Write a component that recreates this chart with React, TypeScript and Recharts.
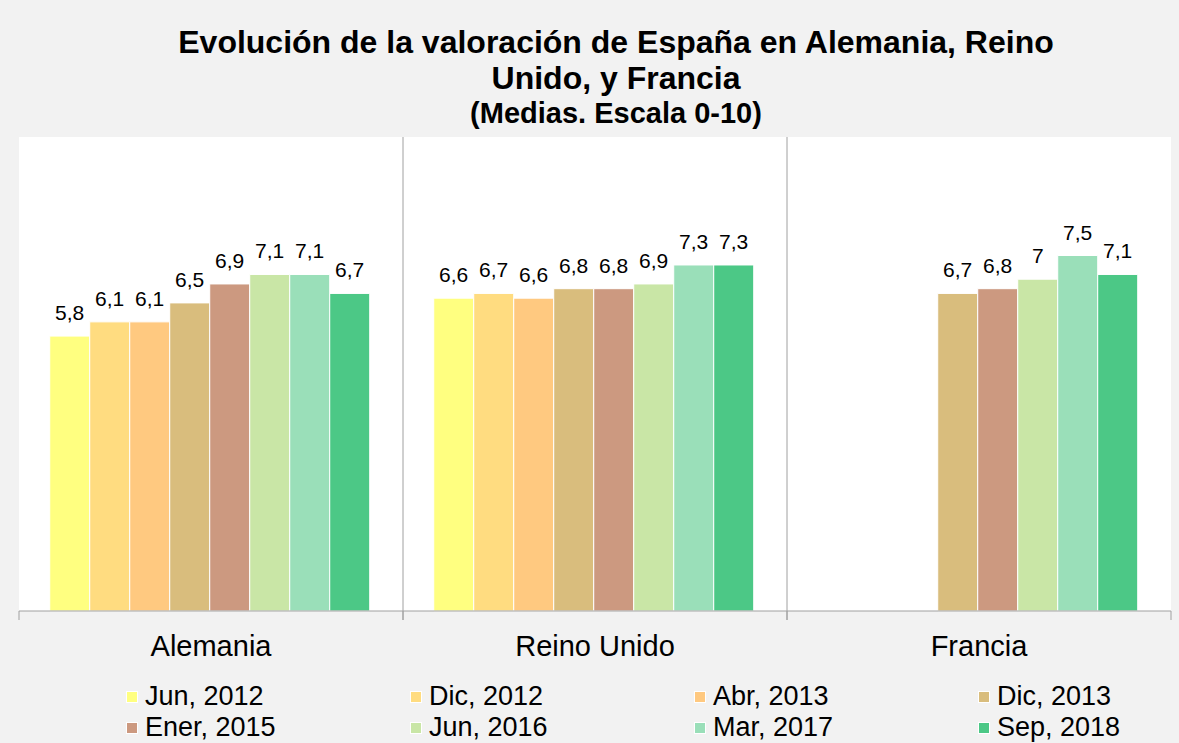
import { BarChart, Bar, XAxis, YAxis, CartesianGrid, LabelList, Legend } from 'recharts';

const categories = ['Alemania', 'Reino Unido', 'Francia'];

const seriesNames = ['Jun, 2012', 'Dic, 2012', 'Abr, 2013', 'Dic, 2013', 'Ener, 2015', 'Jun, 2016', 'Mar, 2017', 'Sep, 2018'];
const seriesColors = ['#ffff80', '#ffdc80', '#ffc980', '#d9bd7d', '#cc9980', '#c9e6a6', '#9adfb9', '#4cc886'];

// one array per country, in series order
const alemania = [5.8, 6.1, 6.1, 6.5, 6.9, 7.1, 7.1, 6.7];
const reinoUnido = [6.6, 6.7, 6.6, 6.8, 6.8, 6.9, 7.3, 7.3];
const francia = [null, null, null, 6.7, 6.8, 7.0, 7.5, 7.1];

const countryValues = [alemania, reinoUnido, francia];

const chartData = categories.map((name, ci) => {
    const row: Record<string, string | number | null> = { name };
    seriesNames.forEach((s, si) => {
        row[s] = countryValues[ci][si];
    });
    return row;
});

const FONT = '"Liberation Sans", Arial, sans-serif';
const AXIS_GRAY = '#a0a0a0';
const TICK_MARGIN = 24;

const fmt = (v: unknown) => (v === null || v === undefined ? '' : String(v).replace('.', ','));

// category label plus the small tick marks at the band edges
function CategoryTick(props: any) {
    const { x, y, payload } = props;
    const half = payload?.offset ?? 0;
    const lineY = y - TICK_MARGIN;
    return (
        <g>
            <line x1={x - half} x2={x - half} y1={lineY} y2={lineY + 9} stroke={AXIS_GRAY} />
            <line x1={x + half} x2={x + half} y1={lineY} y2={lineY + 9} stroke={AXIS_GRAY} />
            <text x={x} y={y} dy="0.71em" textAnchor="middle" fontSize={29} fill="#000" fontFamily={FONT}>
                {payload.value}
            </text>
        </g>
    );
}

function LegendContent() {
    return (
        <div style={{ fontFamily: FONT, fontSize: 27, color: '#000', paddingLeft: 126 }}>
            {[0, 1].map((r) => (
                <div key={r} style={{ display: 'flex', height: 31, alignItems: 'center' }}>
                    {seriesNames.slice(r * 4, r * 4 + 4).map((s, i) => (
                        <div key={s} style={{ width: 284, flexShrink: 0, display: 'flex', alignItems: 'center' }}>
                            <span
                                style={{
                                    display: 'inline-block',
                                    width: 12,
                                    height: 12,
                                    boxSizing: 'border-box',
                                    border: '1px solid #fff',
                                    background: seriesColors[r * 4 + i],
                                    marginRight: 7,
                                }}
                            />
                            <span style={{ lineHeight: '31px', whiteSpace: 'nowrap' }}>{s}</span>
                        </div>
                    ))}
                </div>
            ))}
        </div>
    );
}

export default function App() {
    return (
        <div style={{ position: 'absolute', left: 0, top: 0, width: 1179, height: 743, background: '#f2f2f2', fontFamily: FONT }}>
            <div style={{ position: 'absolute', left: 116, width: 1000, top: 0, textAlign: 'center', fontWeight: 'bold', color: '#000' }}>
                <div style={{ fontSize: 32, lineHeight: '36px', paddingTop: 24, whiteSpace: 'nowrap' }}>
                    Evolución de la valoración de España en Alemania, Reino
                </div>
                <div style={{ fontSize: 32, lineHeight: '36px' }}>Unido, y Francia</div>
                <div style={{ fontSize: 29, lineHeight: '34px' }}>(Medias. Escala 0-10)</div>
            </div>
            <BarChart
                width={1179}
                height={743}
                data={chartData}
                margin={{ top: 137, right: 8, left: 19, bottom: 0 }}
                barCategoryGap="8%"
                barGap={0}
                style={{ position: 'absolute', left: 0, top: 0 }}
            >
                <CartesianGrid
                    horizontal={false}
                    vertical
                    fill="#ffffff"
                    stroke={AXIS_GRAY}
                    strokeDasharray=""
                    verticalCoordinatesGenerator={({ offset }: any) => [
                        offset.left + offset.width / categories.length,
                        offset.left + (2 * offset.width) / categories.length,
                    ]}
                />
                <XAxis
                    dataKey="name"
                    height={132}
                    axisLine={{ stroke: AXIS_GRAY }}
                    tickLine={false}
                    tickSize={0}
                    tickMargin={TICK_MARGIN}
                    tick={<CategoryTick />}
                    interval={0}
                />
                <YAxis hide domain={[0, 10]} />
                {seriesNames.map((s, i) => (
                    <Bar key={s} dataKey={s} fill={seriesColors[i]} stroke="#ffffff" strokeWidth={1} isAnimationActive={false}>
                        <LabelList dataKey={s} position="top" offset={16} formatter={fmt} style={{ fontSize: 21, fill: '#000', fontFamily: FONT }} />
                    </Bar>
                ))}
                <Legend
                    layout="horizontal"
                    verticalAlign="middle"
                    align="center"
                    content={<LegendContent />}
                    wrapperStyle={{ top: 681, left: 0, width: 1179 }}
                />
            </BarChart>
        </div>
    );
}
